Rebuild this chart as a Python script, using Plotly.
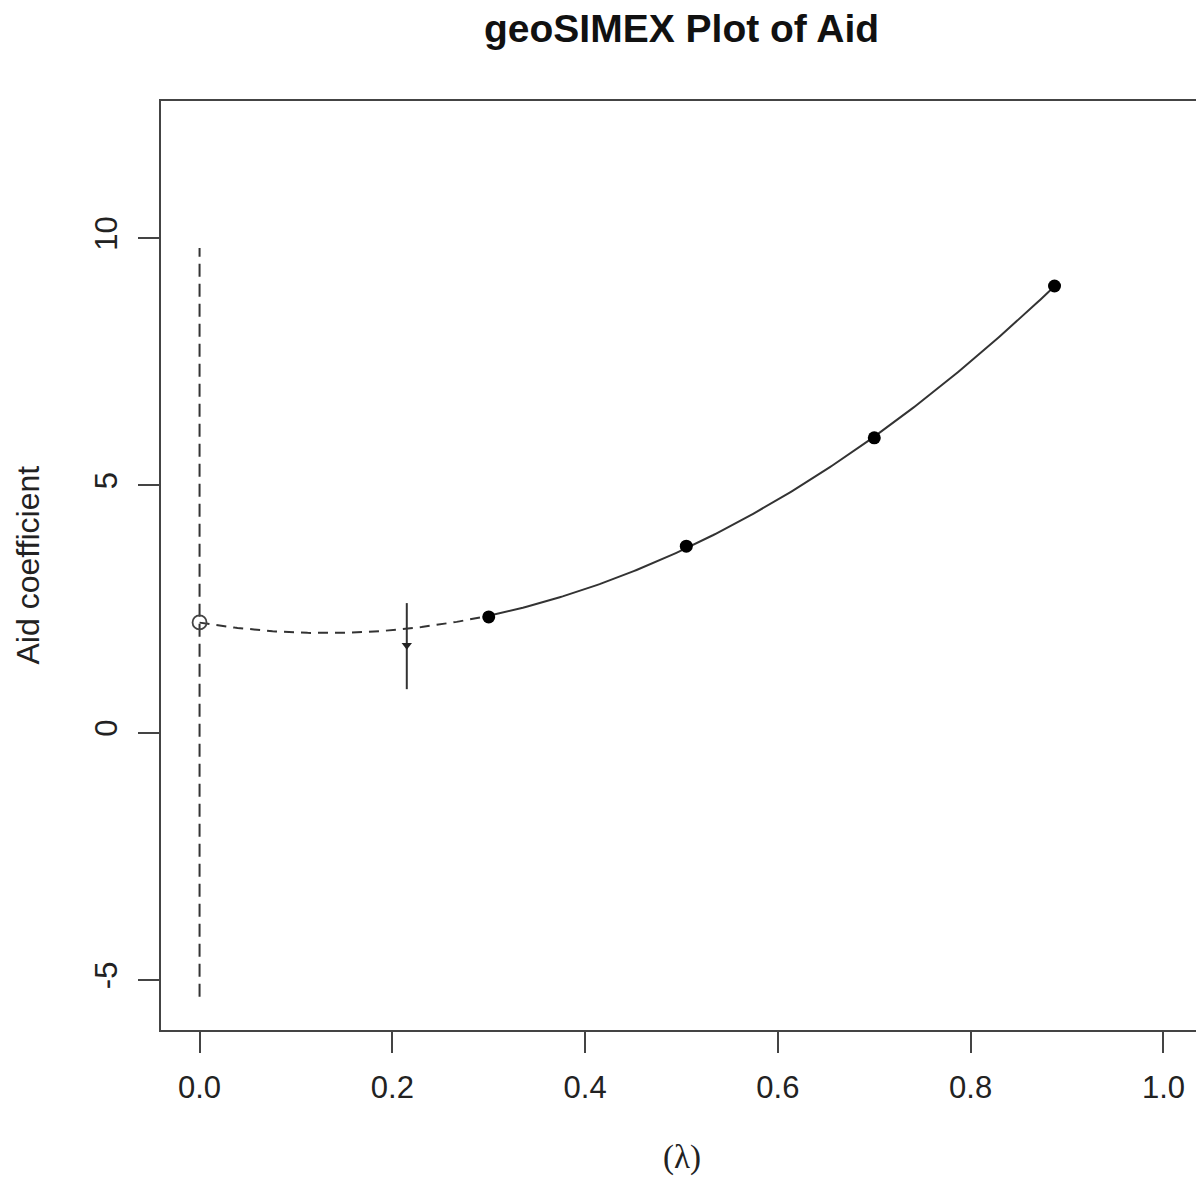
import numpy as np
import plotly.graph_objects as go

# ---- data ----
lambda_sim = [0.300, 0.505, 0.700, 0.887]        # simulated lambda values
coef_sim = [2.34, 3.77, 5.96, 9.03]               # simulated coefficients
lambda_extrap = [0.0]                             # extrapolation point
coef_extrap = [2.23]
ci_extrap_low = [-5.34]
ci_extrap_high = [9.80]
lambda_naive = [0.215]                            # naive estimate
coef_naive = [1.77]
ci_naive_low = [0.88]
ci_naive_high = [2.62]
x_ticks = [0.0, 0.2, 0.4, 0.6, 0.8, 1.0]
y_ticks = [-5, 0, 5, 10]

# quadratic extrapolation curve through the simulated points and the extrapolated value
coefs = np.polyfit(lambda_extrap + lambda_sim, coef_extrap + coef_sim, 2)
x_solid = np.linspace(min(lambda_sim), max(lambda_sim), 200)
x_dash = np.linspace(lambda_extrap[0], min(lambda_sim), 100)

fig = go.Figure()

fig.add_trace(go.Scatter(x=[lambda_extrap[0], lambda_extrap[0]], y=[ci_extrap_low[0], ci_extrap_high[0]],
                         mode="lines", line=dict(color="#333333", width=2, dash="13px,7px"),
                         showlegend=False, hoverinfo="skip"))
fig.add_trace(go.Scatter(x=[lambda_naive[0], lambda_naive[0]], y=[ci_naive_low[0], ci_naive_high[0]],
                         mode="lines", line=dict(color="#333333", width=2),
                         showlegend=False, hoverinfo="skip"))
fig.add_trace(go.Scatter(x=x_dash, y=np.polyval(coefs, x_dash), mode="lines",
                         line=dict(color="#333333", width=2, dash="10px,7px"),
                         showlegend=False, hoverinfo="skip"))
fig.add_trace(go.Scatter(x=x_solid, y=np.polyval(coefs, x_solid), mode="lines",
                         line=dict(color="#333333", width=2),
                         showlegend=False, hoverinfo="skip"))
fig.add_trace(go.Scatter(x=lambda_sim, y=coef_sim, mode="markers",
                         marker=dict(color="black", size=13, symbol="circle"),
                         showlegend=False))
fig.add_trace(go.Scatter(x=lambda_extrap, y=coef_extrap, mode="markers",
                         marker=dict(color="rgba(0,0,0,0)", size=14, symbol="circle",
                                     line=dict(color="#444444", width=1.8)),
                         showlegend=False))
fig.add_trace(go.Scatter(x=lambda_naive, y=coef_naive, mode="markers",
                         marker=dict(color="#222222", size=9, symbol="triangle-down"),
                         showlegend=False))

axis_common = dict(showgrid=False, zeroline=False, showline=True, mirror=True,
                   linecolor="#444444", linewidth=2, ticks="outside", ticklen=21,
                   tickwidth=2, tickcolor="#444444",
                   tickfont=dict(family="Liberation Sans, Arial, sans-serif", size=31, color="#222222"))

fig.update_xaxes(range=[-0.04, 1.04], tickvals=x_ticks, ticktext=[f"{v:.1f}" for v in x_ticks],
                 ticklabelstandoff=8, **axis_common)
fig.update_yaxes(range=[-6.01, 12.77], tickvals=y_ticks, ticktext=[str(v) for v in y_ticks],
                 tickangle=-90, ticklabelstandoff=9, **axis_common)

fig.update_layout(
    width=1198, height=1174,
    margin=dict(l=153, r=2, t=93, b=152),
    plot_bgcolor="white", paper_bgcolor="white",
    annotations=[
        dict(text="<b>geoSIMEX Plot of Aid</b>", xref="paper", yref="paper",
             x=0.5, y=(1030 - 28) / 929, xanchor="center", yanchor="middle", showarrow=False,
             font=dict(family="Liberation Sans, Arial, sans-serif", size=39, color="#111111")),
        dict(text="(λ)", xref="paper", yref="paper",
             x=0.5, y=(1030 - 1157) / 929, xanchor="center", yanchor="middle", showarrow=False,
             font=dict(family="Liberation Serif, DejaVu Serif, serif", size=33, color="#222222")),
        dict(text="Aid coefficient", xref="paper", yref="paper",
             x=(27 - 161) / 1041, y=0.5, xanchor="center", yanchor="middle", showarrow=False,
             textangle=-90,
             font=dict(family="Liberation Sans, Arial, sans-serif", size=32, color="#222222")),
    ],
)

fig.write_html("out.html")
